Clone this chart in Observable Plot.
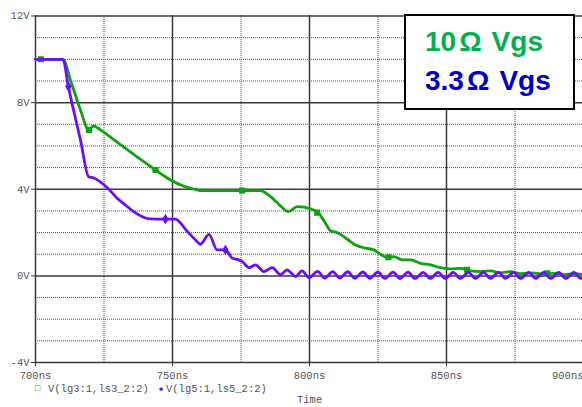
<!DOCTYPE html>
<html><head><meta charset="utf-8">
<script src="https://cdn.jsdelivr.net/npm/d3@7"></script>
<script src="https://cdn.jsdelivr.net/npm/@observablehq/plot@0.6"></script>
<style>
body{margin:0;background:#fff;}
#wrap{position:relative;width:582px;height:407px;overflow:hidden;}
#box{position:absolute;left:404px;top:14px;width:167px;height:92px;border:2px solid #000;background:#fff;font-family:"Liberation Sans",Arial,sans-serif;font-weight:bold;font-size:28px;line-height:28px;}
#box div{position:absolute;left:19px;white-space:pre;}
#box span.om{display:inline-block;margin:0 10px 0 3px;}
.mono{position:absolute;font-family:"Liberation Mono","DejaVu Sans Mono",monospace;font-size:10.5px;color:#555;white-space:pre;line-height:12px;}
</style></head>
<body>
<div id="wrap"></div>
<script>
// ---- data ----
const xTicks = [700, 750, 800, 850, 900];
const yTicks = [-4, 0, 4, 8, 12];
const minorX = [725, 775, 825, 875];
const minorY = [-3, -2, -1, 1, 2, 3, 5, 6, 7, 9, 10, 11];

// V(lg3:1,ls3_2:2)  — 10 ohm gate resistor (green)
const greenT = [700, 710, 713, 716.4, 719.5, 721.2, 723.7, 730, 737, 743.8, 749.3, 754, 758, 760.2, 770, 782,
  785.8, 789, 792.3, 795.6, 800.4, 803.3, 805.5, 807.7, 810, 813.9, 816.8, 820.4, 823.5, 825.3, 828.3, 830.8,
  833.8, 836.9, 840.5, 844.2, 847.8, 851.5, 855.1, 858.8, 862.4, 866, 869.7, 873.4, 877, 881, 885, 889, 893, 897, 900];
const greenV = [10, 10, 8.95, 7.66, 6.74, 6.92, 6.74, 6.15, 5.5, 4.89, 4.43, 4.15, 4.0, 3.94, 3.94, 3.94,
  3.66, 3.28, 2.97, 3.2, 3.1, 2.9, 2.5, 2.08, 2.0, 1.68, 1.43, 1.28, 1.2, 1.05, 0.85, 0.89,
  0.74, 0.74, 0.58, 0.51, 0.38, 0.32, 0.35, 0.23, 0.2, 0.23, 0.14, 0.2, 0.1, 0.14, 0.08, 0.12, 0.06, 0.1, 0.06];
const greenMarkT = [702, 719.5, 743.8, 775.4, 802.8, 828.8, 857.5, 886.7];
const greenMarkV = [10, 6.74, 4.89, 3.94, 2.92, 0.86, 0.28, 0.12];

// V(lg5:1,ls5_2:2)  — 3.3 ohm gate resistor (purple)
const purpleT = [700, 710, 712, 716.4, 719.4, 721.2, 726.3, 729.8, 733, 735.8, 739.4, 742, 746, 751, 755.4, 758.4,
  760.2, 763.3, 766.3, 769.3, 771.8, 773.6, 775.5, 777.9, 780.3, 783.3, 786.4, 789.4, 791.8, 794.9, 797.3, 799.8,
  803.0, 805.5, 808.5, 811.0, 814.0, 816.5, 819.5, 822.0, 825.0, 827.5, 830.5, 833.0, 836.0, 838.5, 841.5, 844.0,
  847.0, 849.5, 852.5, 855.0, 858.0, 860.5, 863.5, 866.0, 869.0, 871.5, 874.5, 877.0, 880.0, 882.5, 885.5, 888.0,
  891.0, 893.5, 896.5, 899.0, 900];
const purpleV = [10, 10, 8.74, 6.28, 4.58, 4.52, 4.06, 3.58, 3.25, 2.97, 2.71, 2.63, 2.62, 2.62, 2.05, 1.66,
  1.46, 1.92, 1.2, 1.2, 0.82, 0.76, 0.66, 0.38, 0.51, 0.2, 0.38, 0.05, 0.28, -0.03, 0.23, -0.08,
  0.21, -0.1, 0.2, -0.1, 0.19, -0.11, 0.18, -0.11, 0.18, -0.12, 0.17, -0.12, 0.17, -0.12, 0.16, -0.12,
  0.16, -0.12, 0.16, -0.12, 0.16, -0.12, 0.16, -0.12, 0.16, -0.12, 0.16, -0.12, 0.16, -0.12, 0.16, -0.12,
  0.16, -0.12, 0.16, -0.12, -0.08];
const purpleMarkT = [712, 747.4, 769.3];
const purpleMarkV = [8.74, 2.62, 1.2];

const green = greenT.map((t, i) => ({t, v: greenV[i]}));
const purple = purpleT.map((t, i) => ({t, v: purpleV[i]}));
const greenMarks = greenMarkT.map((t, i) => ({t, v: greenMarkV[i]}));
const purpleMarks = purpleMarkT.map((t, i) => ({t, v: purpleMarkV[i]}));

const GREEN = "#0ca30c", PURPLE = "#6a0dff";
const mono = "Liberation Mono, DejaVu Sans Mono, monospace";

const chart = Plot.plot({
  width: 582, height: 407,
  marginTop: 15, marginLeft: 35, marginRight: 0, marginBottom: 45,
  style: {background: "#fff", color: "#555", fontFamily: mono, fontSize: "10.5px", overflow: "visible"},
  x: {domain: [700, 900], range: [35, 583]},
  y: {domain: [-4, 12], range: [362, 15.5]},
  marks: [
    Plot.ruleY(minorY, {stroke: "#555", strokeDasharray: "1,1", strokeWidth: 1}),
    Plot.ruleX(minorX, {stroke: "#555", strokeDasharray: "1,1", strokeWidth: 1}),
    Plot.ruleY(yTicks, {stroke: "#3a3a3a", strokeWidth: 1.5}),
    Plot.ruleX(xTicks, {stroke: "#3a3a3a", strokeWidth: 1.5}),
    Plot.axisY({ticks: yTicks, tickFormat: d => d + "V", tickSize: 4, tickPadding: 2, stroke: "#333", fill: "#555", label: null}),
    Plot.axisX({ticks: xTicks.slice(0, 4), tickFormat: d => d + "ns", tickSize: 4, tickPadding: 5, stroke: "#333", fill: "#555", label: null}),
    Plot.axisX({ticks: xTicks.slice(4), tickFormat: d => d + "ns", tickSize: 0, tickPadding: 9, textAnchor: "end", fill: "#555", label: null}),
    Plot.line(green, {x: "t", y: "v", stroke: GREEN, strokeWidth: 2.8, curve: "monotone-x", strokeLinejoin: "round"}),
    Plot.dot(greenMarks, {x: "t", y: "v", symbol: "square", r: 2.6, fill: GREEN, stroke: GREEN}),
    Plot.line(purple, {x: "t", y: "v", stroke: PURPLE, strokeWidth: 2.8, curve: "monotone-x", strokeLinejoin: "round"}),
    Plot.dot(purpleMarks, {x: "t", y: "v", symbol: "diamond", r: 2.4, fill: PURPLE, stroke: PURPLE})
  ]
});
const wrap = document.getElementById("wrap");
wrap.appendChild(chart);

// legend box (top-right)
const box = document.createElement("div");
box.id = "box";
box.innerHTML = '<div style="top:12px;color:#00b050">10<span class="om">Ω</span>Vgs</div>' +
                '<div style="top:51px;color:#0000c8">3.3<span class="om">Ω</span>Vgs</div>';
wrap.appendChild(box);

// trace legend and axis title (below)
function mk(txt, left, top, extra) {
  const d = document.createElement("div");
  d.className = "mono"; d.textContent = txt;
  d.style.left = left + "px"; d.style.top = top + "px";
  if (extra) Object.assign(d.style, extra);
  wrap.appendChild(d);
}
mk("□", 35, 383, {color: "#0ca30c", fontSize: "9px"});
mk("V(lg3:1,ls3_2:2)", 48, 383);
mk("◆", 159, 383, {color: "#6a0dff", fontSize: "7px"});
mk("V(lg5:1,ls5_2:2)", 166, 383);
mk("Time", 297, 394);
</script>
</body></html>
